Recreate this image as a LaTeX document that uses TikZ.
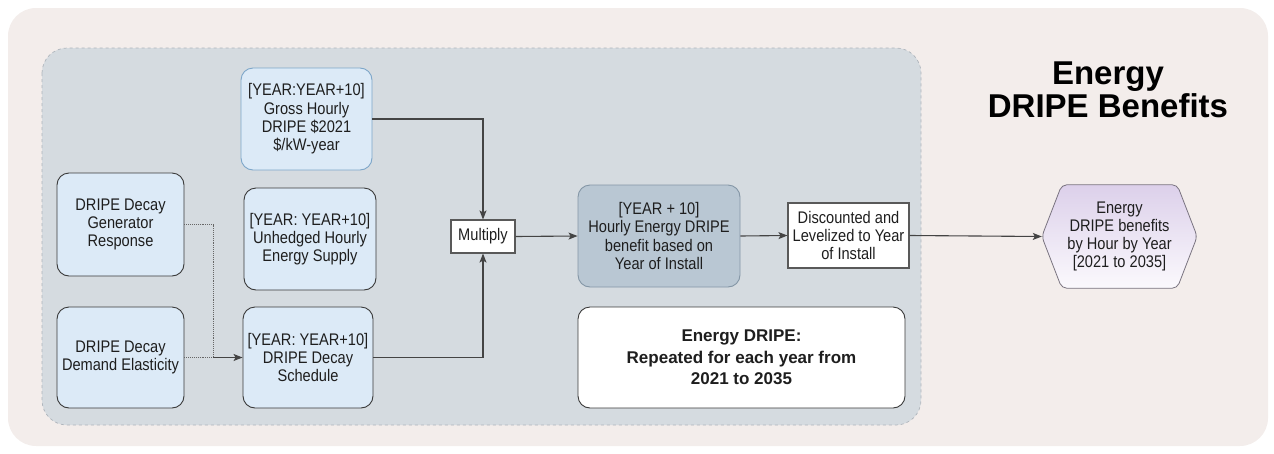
\documentclass[tikz,border=0pt]{standalone}
\usepackage{fontspec}
\setmainfont{Liberation Sans}
\newfontfamily\nfont{Liberation Sans}[FakeStretch=0.87]
\usetikzlibrary{arrows.meta}
\pgfdeclarelayer{panels}
\pgfdeclarelayer{background}
\pgfsetlayers{panels,background,main}
\definecolor{outerbg}{HTML}{F3EDEB}
\definecolor{innerbg}{HTML}{D5DBE0}
\definecolor{innerline}{HTML}{AEB5BC}
\definecolor{lblue}{HTML}{DCEAF7}
\definecolor{grossline}{HTML}{7DA6C9}
\definecolor{boxline}{HTML}{3A3A3A}
\definecolor{hourfill}{HTML}{B9C7D3}
\definecolor{hourline}{HTML}{8496A6}
\definecolor{hextop}{HTML}{DCD0EA}
\definecolor{hexbot}{HTML}{FBF9FD}
\definecolor{hexline}{HTML}{7A7480}
\definecolor{conn}{HTML}{444444}
\definecolor{txt}{HTML}{1E1E1E}
\tikzset{
  bodytxt/.style={text=txt, font=\nfont\fontsize{16.8}{18.3}\selectfont},
  lbox/.style={bodytxt, rounded corners=12pt, draw=boxline, fill=lblue, line width=0.9pt, align=center, inner sep=0pt},
  sqbox/.style={bodytxt, draw=gray!70!black, fill=white, line width=1.1pt, align=center, inner sep=0pt},
  conline/.style={draw=conn, line width=1.1pt, -{Stealth[length=9pt,width=7pt,inset=2pt]}},
  dotline/.style={draw=gray!80!black, line width=0.9pt, densely dotted},
}
\begin{document}
\begin{tikzpicture}[x=1pt,y=-1pt]
\useasboundingbox (0,0) rectangle (1274,453);
\begin{pgfonlayer}{panels}
\fill[outerbg, rounded corners=28pt] (8,8) rectangle (1268,446);
\draw[innerline, fill=innerbg, rounded corners=25pt, dashed, line width=0.7pt] (42,48) rectangle (921,425);
\end{pgfonlayer}

\node[lbox, draw=grossline, minimum width=131pt, minimum height=102pt] (gross) at (306.5,119)
  {[YEAR:YEAR+10]\\Gross Hourly\\DRIPE \$2021\\\$/kW-year};
\node[lbox, minimum width=127pt, minimum height=103pt] (gen) at (120.5,224.5)
  {DRIPE Decay\\Generator\\Response};
\node[lbox, minimum width=132pt, minimum height=102pt] (unh) at (310,239)
  {[YEAR: YEAR+10]\\Unhedged Hourly\\Energy Supply};
\node[lbox, minimum width=127pt, minimum height=101pt] (dem) at (120.5,357.5)
  {DRIPE Decay\\Demand Elasticity};
\node[lbox, minimum width=130pt, minimum height=101pt] (sched) at (308,357.5)
  {[YEAR: YEAR+10]\\DRIPE Decay\\Schedule};
\node[sqbox, minimum width=64pt, minimum height=33pt] (mult) at (483,236.5) {Multiply};
\node[lbox, fill=hourfill, draw=hourline, minimum width=162pt, minimum height=102pt] (hourly) at (659,236)
  {[YEAR + 10]\\Hourly Energy DRIPE\\benefit based on\\Year of Install};
\node[sqbox, minimum width=121pt, minimum height=65pt] (disc) at (848.5,235.5)
  {Discounted and\\Levelized to Year\\of Install};
\node[lbox, fill=white, minimum width=327pt, minimum height=101pt, font=\bfseries\fontsize{17}{21.5}\selectfont] (rep) at (741.5,357.5)
  {Energy DRIPE:\\Repeated for each year from\\2021 to 2035};
\node[bodytxt, align=center, inner sep=0pt, minimum width=155pt, minimum height=103pt] (hex) at (1119.5,236.5)
  {Energy\\DRIPE benefits\\by Hour by Year\\{[2021 to 2035]}};
\begin{pgfonlayer}{background}
\path[fill=black!12, rounded corners=5pt, xshift=1.5pt, yshift=-2pt]
  (hex.west) -- ([xshift=20pt]hex.north west) -- ([xshift=-20pt]hex.north east) -- (hex.east)
  -- ([xshift=-20pt]hex.south east) -- ([xshift=20pt]hex.south west) -- cycle;
\path[draw=hexline, line width=0.8pt, top color=hextop, bottom color=hexbot, rounded corners=5pt]
  (hex.west) -- ([xshift=20pt]hex.north west) -- ([xshift=-20pt]hex.north east) -- (hex.east)
  -- ([xshift=-20pt]hex.south east) -- ([xshift=20pt]hex.south west) -- cycle;
\end{pgfonlayer}
\node[align=center, inner sep=0pt, font=\bfseries\fontsize{33}{33}\selectfont] (title) at (1108,90)
  {Energy\\DRIPE Benefits};

\coordinate (jn) at (213,357.5);
\draw[conline] (gross.east) -| (mult.north);
\draw[conline] (sched.east) -| (mult.south);
\draw[conline] (mult.east) -- (hourly.west);
\draw[conline] (hourly.east) -- (disc.west);
\draw[conline] (disc.east) -- (hex.west);
\draw[dotline] (gen.east) -| (jn);
\draw[dotline] (dem.east) -- (jn);
\draw[conline] (jn) -- (sched.west);
\end{tikzpicture}
\end{document}
